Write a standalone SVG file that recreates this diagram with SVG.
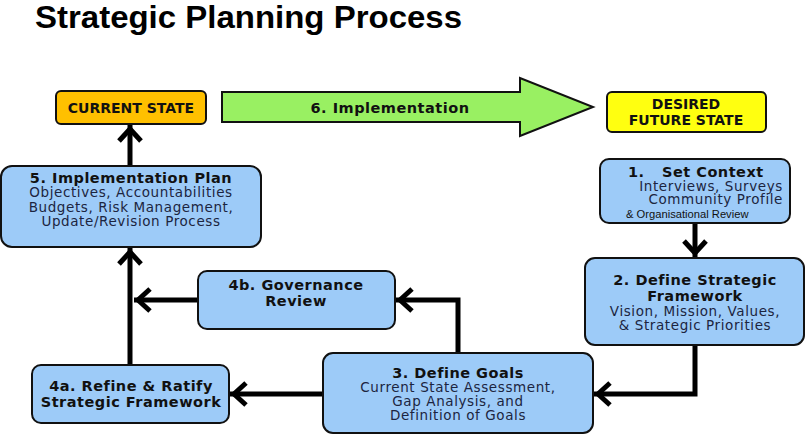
<svg xmlns="http://www.w3.org/2000/svg" width="806" height="435" viewBox="0 0 806 435">
<defs>
<style>
.box{fill:#9DCBF8;stroke:#111;stroke-width:2}
.b{font-family:"DejaVu Sans",Verdana,sans-serif;font-weight:bold;font-size:14.5px;letter-spacing:0.5px;fill:#111;text-anchor:middle}
.r{font-family:"DejaVu Sans",Verdana,sans-serif;font-size:13.5px;letter-spacing:0.6px;fill:#1c2540;text-anchor:middle}
.c{fill:none;stroke:#000;stroke-width:5;stroke-linejoin:miter}
</style>
<marker id="ah" markerUnits="userSpaceOnUse" markerWidth="30" markerHeight="30" viewBox="-20 -15 30 30" refX="4" refY="0" orient="auto">
<path d="M-12,-11 L0,0 L-12,11" fill="none" stroke="#000" stroke-width="5" stroke-linejoin="miter"/>
</marker>
</defs>
<rect width="806" height="435" fill="#fff"/>
<text x="35" y="28" font-family="'Liberation Sans',Arial,sans-serif" font-weight="bold" font-size="31" textLength="427" lengthAdjust="spacingAndGlyphs" fill="#000">Strategic Planning Process</text>

<g id="current">
<rect x="56" y="91" width="150" height="33" rx="5" fill="#FFC000" stroke="#111" stroke-width="2"/>
<text class="b" x="131" y="113" style="font-size:14px;letter-spacing:0">CURRENT STATE</text>
</g>
<g id="implementation">
<polygon points="222,92 520,92 520,78 593,107 520,136 520,122 222,122" fill="#99F062" stroke="#111" stroke-width="2"/>
<text class="b" x="390" y="113">6. Implementation</text>
</g>
<g id="desired">
<rect x="607" y="92" width="159" height="40" rx="5" fill="#FFFF10" stroke="#111" stroke-width="2"/>
<text class="b" x="686" y="109" style="font-size:14px;letter-spacing:0">DESIRED</text>
<text class="b" x="686" y="125" style="font-size:14px;letter-spacing:0">FUTURE STATE</text>
</g>
<g id="n1">
<rect class="box" x="600" y="159" width="190" height="64" rx="9"/>
<text class="b" x="628" y="177" style="text-anchor:start">1.</text>
<text class="b" x="662" y="177" style="text-anchor:start">Set Context</text>
<text class="r" x="783" y="191" style="text-anchor:end">Interviews, Surveys</text>
<text class="r" x="783" y="204" style="text-anchor:end">Community Profile</text>
<text x="626" y="218" font-family="'Liberation Sans',Arial,sans-serif" font-size="11.2" fill="#111">&amp; Organisational Review</text>
</g>
<g id="n2">
<rect class="box" x="585" y="258" width="219" height="87" rx="10"/>
<text class="b" x="695" y="285">2. Define Strategic</text>
<text class="b" x="695" y="301">Framework</text>
<text class="r" x="695" y="316">Vision, Mission, Values,</text>
<text class="r" x="695" y="330">&amp; Strategic Priorities</text>
</g>
<g id="n3">
<rect class="box" x="323" y="353" width="270" height="80" rx="10"/>
<text class="b" x="458" y="378">3. Define Goals</text>
<text class="r" x="458" y="392">Current State Assessment,</text>
<text class="r" x="458" y="406">Gap Analysis, and</text>
<text class="r" x="458" y="420">Definition of Goals</text>
</g>
<g id="n4b">
<rect class="box" x="198" y="271" width="197" height="58" rx="9"/>
<text class="b" x="296" y="290">4b. Governance</text>
<text class="b" x="296" y="306">Review</text>
</g>
<g id="n4a">
<rect class="box" x="32" y="365" width="197" height="58" rx="9"/>
<text class="b" x="131" y="391">4a. Refine &amp; Ratify</text>
<text class="b" x="131" y="407">Strategic Framework</text>
</g>
<g id="n5">
<rect class="box" x="1" y="166" width="260" height="81" rx="11"/>
<text class="b" x="131" y="183">5. Implementation Plan</text>
<text class="r" x="131" y="197">Objectives, Accountabilities</text>
<text class="r" x="131" y="212">Budgets, Risk Management,</text>
<text class="r" x="131" y="226">Update/Revision Process</text>
</g>

<g id="connectors">
<path class="c" d="M130,165 V125" marker-end="url(#ah)"/>
<path class="c" d="M695,224 V257" marker-end="url(#ah)"/>
<path class="c" d="M695,346 V394 H594" marker-end="url(#ah)"/>
<path class="c" d="M322,394 H230" marker-end="url(#ah)"/>
<path class="c" d="M458,352 V300 H396" marker-end="url(#ah)"/>
<path class="c" d="M197,300 H134" marker-end="url(#ah)"/>
<path class="c" d="M130,364 V248" marker-end="url(#ah)"/>
</g>
</svg>
